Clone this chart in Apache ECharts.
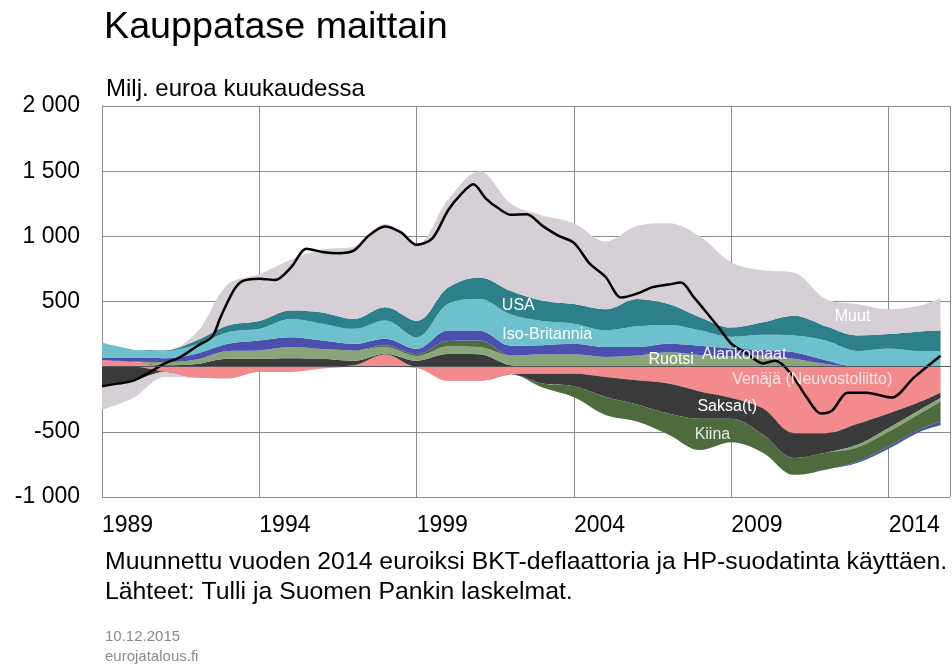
<!DOCTYPE html>
<html>
<head>
<meta charset="utf-8">
<title>Kauppatase maittain</title>
<script src="https://cdn.jsdelivr.net/npm/echarts@6/dist/echarts.min.js"></script>
<style>
  html, body { margin: 0; padding: 0; background: #fff; }
  #chart { width: 952px; height: 670px; }
</style>
</head>
<body>
<div id="chart"></div>
<script>
// vuosittaiset lukemat (milj. euroa / kk), luettu kuvasta
var years = [1989, 1990, 1991, 1992, 1993, 1994, 1995, 1996, 1997, 1998, 1999, 2000, 2001, 2002,
  2003, 2004, 2005, 2006, 2007, 2008, 2009, 2010, 2011, 2012, 2013, 2014, 2015, 2015.65];

var venaja = [50, 40, -40, -85, -90, -40, -40, -15, 10, 95, -10, -110, -110, -60,
  -55, -55, -80, -105, -130, -190, -240, -320, -510, -510, -440, -360, -270, -200];
var saksa = [-155, -110, 10, 20, 60, 60, 65, 60, 35, 5, 46, 97, 95, 10,
  -75, -95, -150, -185, -230, -210, -160, -200, -190, -150, -160, -110, -60, -40];
var ruotsi = [0, 0, 25, 35, 60, 65, 85, 75, 80, 50, 35, 60, 55, 75,
  95, 95, 75, 85, 110, 90, 80, 85, 60, 20, -20, -30, -30, -30];
var kiina = [0, 0, 0, 0, 0, 0, 0, 0, 0, 15, 15, 40, 50, 0,
  -30, -85, -140, -130, -160, -240, -180, -140, -130, -130, -110, -110, -120, -150];
var alankomaat = [20, 30, 30, 45, 55, 75, 75, 65, 50, 50, 40, 80, 75, 75,
  70, 80, 75, 65, 65, 70, 60, 45, 50, 30, -10, -20, -20, -30];
var isoBritannia = [115, 60, 55, 70, 90, 90, 140, 130, 115, 140, 90, 205, 245, 240,
  185, 155, 130, 160, 145, 120, 90, 115, 130, 150, 120, 140, 120, 120];
var usa = [0, 0, 5, 30, 50, 60, 65, 85, 75, 100, 125, 125, 165, 180,
  155, 150, 160, 210, 160, 100, 70, 95, 150, 110, 120, 110, 150, 160];
var muut = [-175, -130, -40, 60, 318, 360, 390, 485, 555, 640, 590, 676, 815, 670,
  655, 620, 520, 560, 620, 620, 500, 400, 330, 210, 240, 190, 200, 245];

// kauppatase yhteensä (musta viiva)
var totalYears = [1989, 1989.5, 1990, 1990.5, 1991, 1991.5, 1992, 1992.5, 1992.75, 1993, 1993.25, 1993.5,
  1994, 1994.5, 1995, 1995.5, 1996, 1996.5, 1997, 1997.5, 1998, 1998.5, 1999, 1999.5, 2000, 2000.4,
  2000.8, 2001.2, 2001.6, 2002, 2002.5, 2003, 2003.5, 2004, 2004.5, 2005, 2005.5, 2006, 2006.5, 2007,
  2007.4, 2007.8, 2008.2, 2008.6, 2009, 2009.5, 2010, 2010.4, 2010.9, 2011.4, 2011.85, 2012.2, 2012.7,
  2013.3, 2014.1, 2014.8, 2015.65];
var totalValues = [-150, -130, -107, -45, 25, 75, 155, 230, 370, 500, 610, 660,
  675, 665, 760, 905, 880, 870, 890, 1010, 1075, 1030, 935, 985, 1200, 1320,
  1400, 1290, 1215, 1165, 1170, 1080, 1005, 950, 790, 690, 530, 560, 610, 630,
  645, 535, 420, 300, 176, 100, 25, 45, -55, -237, -360, -337, -200,
  -200, -237, -84, 84];

var yearTicks = [1989, 1994, 1999, 2004, 2009, 2014];

var BASE = 1989;
var FONT = '"Liberation Sans", Arial, sans-serif';

var countries = [
  { name: "Venäjä", values: venaja, color: "#f28a8e" },
  { name: "Saksa", values: saksa, color: "#3a3a3a" },
  { name: "Ruotsi", values: ruotsi, color: "#8aa57a" },
  { name: "Kiina", values: kiina, color: "#4e6b3e" },
  { name: "Alankomaat", values: alankomaat, color: "#4b4fae" },
  { name: "Iso-Britannia", values: isoBritannia, color: "#6dc1cc" },
  { name: "USA", values: usa, color: "#2d8089" },
  { name: "Muut", values: muut, color: "#d6cfd6" },
];

// tekstit kuvan sisällä (vuosi, arvo)
var areaLabels = [
  { text: "USA", year: 2002.23, value: 467, color: "#ffffff" },
  { text: "Iso-Britannia", year: 2003.15, value: 243, color: "#ffffff" },
  { text: "Ruotsi", year: 2007.09, value: 51, color: "#ffffff" },
  { text: "Alankomaat", year: 2009.41, value: 90, color: "#f4f2ff" },
  { text: "Venäjä (Neuvostoliitto)", year: 2011.57, value: -102, color: "#fde6e6" },
  { text: "Saksa(t)", year: 2008.87, value: -309, color: "#ffffff" },
  { text: "Kiina", year: 2008.4, value: -524, color: "#e6e6e6" },
  { text: "Muut", year: 2012.85, value: 381, color: "#ffffff" },
];

function fmtNum(v) {
  if (v === 0) return "";
  var s = String(Math.abs(v));
  if (s.length > 3) s = s.slice(0, s.length - 3) + " " + s.slice(s.length - 3);
  return (v < 0 ? "-" : "") + s;
}

// arvo ensin, jotta pinoutuminen tehdään y-arvolle (x-akseli on value-tyyppinen)
var series = [];
countries.forEach(function (c) {
  var hasPos = c.values.some(function (v) { return v > 0; });
  var hasNeg = c.values.some(function (v) { return v < 0; });
  var base = {
    type: "line",
    stackStrategy: "all",
    symbol: "none",
    smooth: 0.35,
    lineStyle: { width: 0, opacity: 0 },
    areaStyle: { color: c.color, opacity: 1 },
    itemStyle: { color: c.color },
    encode: { x: 1, y: 0 },
    silent: true,
    z: 2,
  };
  if (hasPos) {
    series.push(Object.assign({}, base, {
      name: c.name, stack: "pos",
      data: years.map(function (y, i) { return [Math.max(c.values[i], 0), y - BASE]; }),
    }));
  }
  if (hasNeg) {
    series.push(Object.assign({}, base, {
      name: c.name + "-", stack: "neg",
      data: years.map(function (y, i) { return [Math.min(c.values[i], 0), y - BASE]; }),
    }));
  }
});

series.push({
  name: "Yhteensä",
  type: "line",
  symbol: "none",
  smooth: 0.3,
  lineStyle: { color: "#000", width: 2.5 },
  itemStyle: { color: "#000" },
  z: 4,
  data: totalYears.map(function (y, i) { return [y - BASE, totalValues[i]]; }),
  markLine: {
    silent: true,
    symbol: "none",
    label: { show: false },
    lineStyle: { color: "#555", width: 1, type: "solid" },
    data: [{ yAxis: 0 }],
  },
});

var chart = echarts.init(document.getElementById("chart"));

var option = {
  animation: false,
  backgroundColor: "#fff",
  textStyle: { fontFamily: FONT },
  grid: { left: 102, right: 2, top: 106, bottom: 173, containLabel: false, outerBoundsMode: "none" },
  xAxis: {
    type: "value",
    min: 0,
    max: 26.95,
    interval: 5,
    axisLine: { show: false },
    axisTick: { show: false },
    splitLine: { show: true, lineStyle: { color: "#8c8c8c", width: 1 } },
    axisLabel: {
      fontSize: 23,
      color: "#000",
      fontFamily: FONT,
      align: "left",
      margin: 17,
      formatter: function (v) {
        var y = Math.round(v) + BASE;
        return Math.abs(v - Math.round(v)) < 1e-6 && yearTicks.indexOf(y) >= 0 ? String(y) : "";
      },
    },
  },
  yAxis: {
    type: "value",
    min: -1000,
    max: 2000,
    interval: 500,
    axisLine: { show: true, lineStyle: { color: "#8c8c8c" } },
    axisTick: { show: false },
    splitLine: { show: true, lineStyle: { color: "#8c8c8c", width: 1 } },
    axisLabel: { fontSize: 23, color: "#000", fontFamily: FONT, margin: 22, formatter: fmtNum },
  },
  series: series,
};

chart.setOption(option);

var graphics = [
  { type: "text", left: 104, top: 9, style: { text: "Kauppatase maittain", font: "37.7px " + FONT, fill: "#000" } },
  { type: "text", left: 106, top: 77, style: { text: "Milj. euroa kuukaudessa", font: "24px " + FONT, fill: "#000" } },
  { type: "text", left: 105, top: 550, style: { text: "Muunnettu vuoden 2014 euroiksi BKT-deflaattoria ja HP-suodatinta käyttäen.", font: "24.8px " + FONT, fill: "#000" } },
  { type: "text", left: 105, top: 580, style: { text: "Lähteet: Tulli ja Suomen Pankin laskelmat.", font: "24.8px " + FONT, fill: "#000" } },
  { type: "text", left: 105, top: 629, style: { text: "10.12.2015", font: "15px " + FONT, fill: "#8a8a8a" } },
  { type: "text", left: 105, top: 649, style: { text: "eurojatalous.fi", font: "15px " + FONT, fill: "#8a8a8a" } },
];

areaLabels.forEach(function (l) {
  var p = chart.convertToPixel({ gridIndex: 0 }, [l.year - BASE, l.value]);
  graphics.push({
    type: "text",
    x: p[0],
    y: p[1],
    z: 10,
    silent: true,
    style: { text: l.text, font: "16px " + FONT, fill: l.color, align: "center", verticalAlign: "middle" },
  });
});

chart.setOption({ graphic: graphics });

window.addEventListener("resize", function () {
  chart.resize();
});
</script>
</body>
</html>
